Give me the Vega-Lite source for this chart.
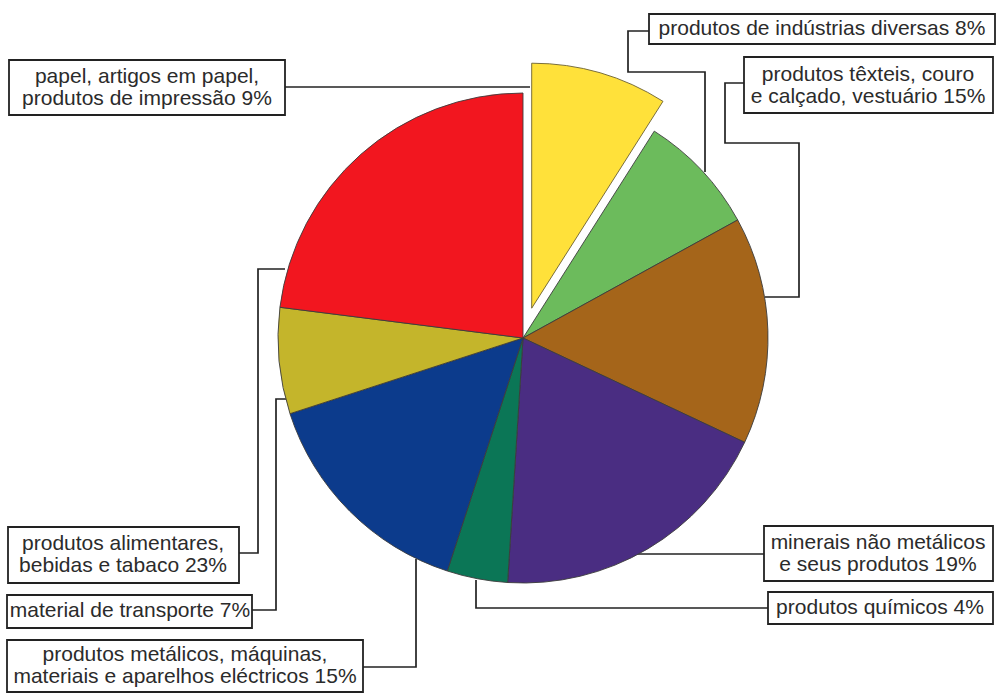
{
  "$schema": "https://vega.github.io/schema/vega-lite/v6.json",
  "width": 954,
  "height": 676,
  "autosize": "none",
  "padding": {"left": 46, "top": 0, "right": 0, "bottom": 19},
  "background": "white",
  "config": {"view": {"stroke": null}},
  "datasets": {
    "slices": [
      {"sector": "papel, artigos em papel, produtos de impressão", "pct": 9, "ord": 1},
      {"sector": "produtos de indústrias diversas", "pct": 8, "ord": 2},
      {"sector": "produtos têxteis, couro e calçado, vestuário", "pct": 15, "ord": 3},
      {"sector": "minerais não metálicos e seus produtos", "pct": 19, "ord": 4},
      {"sector": "produtos químicos", "pct": 4, "ord": 5},
      {"sector": "produtos metálicos, máquinas, materiais e aparelhos eléctricos", "pct": 15, "ord": 6},
      {"sector": "material de transporte", "pct": 7, "ord": 7},
      {"sector": "produtos alimentares, bebidas e tabaco", "pct": 23, "ord": 8}
    ],
    "boxes": [
      {"label": "papel, artigos em papel,\nprodutos de impressão 9%", "x1": -514, "x2": -238, "y1": 278, "y2": 223, "tx": -376, "ty": 261},
      {"label": "produtos de indústrias diversas 8%", "x1": 126, "x2": 472, "y1": 324, "y2": 294, "tx": 299, "ty": 309},
      {"label": "produtos  têxteis, couro\ne calçado, vestuário 15%", "x1": 221, "x2": 470, "y1": 281, "y2": 225, "tx": 345, "ty": 263},
      {"label": "minerais não metálicos\ne seus produtos 19%", "x1": 241, "x2": 470, "y1": -188, "y2": -243, "tx": 355, "ty": -205},
      {"label": "produtos químicos 4%", "x1": 245, "x2": 470, "y1": -254, "y2": -286, "tx": 357, "ty": -270},
      {"label": "produtos metálicos, máquinas,\nmateriais e aparelhos eléctricos 15%", "x1": -516, "x2": -160, "y1": -302, "y2": -354, "tx": -338, "ty": -317},
      {"label": "material de transporte 7%", "x1": -516, "x2": -271, "y1": -257, "y2": -290, "tx": -393, "ty": -273},
      {"label": "produtos alimentares,\nbebidas e tabaco 23%", "x1": -515, "x2": -284, "y1": -189, "y2": -245, "tx": -400, "ty": -206}
    ],
    "leaders": [
      {"lid": "papel", "seq": 1, "lx": -238, "ly": 251},
      {"lid": "papel", "seq": 2, "lx": 7, "ly": 251},
      {"lid": "diversas", "seq": 1, "lx": 126, "ly": 307},
      {"lid": "diversas", "seq": 2, "lx": 105, "ly": 307},
      {"lid": "diversas", "seq": 3, "lx": 105, "ly": 266},
      {"lid": "diversas", "seq": 4, "lx": 182, "ly": 266},
      {"lid": "diversas", "seq": 5, "lx": 182, "ly": 166},
      {"lid": "texteis", "seq": 1, "lx": 221, "ly": 255},
      {"lid": "texteis", "seq": 2, "lx": 202, "ly": 255},
      {"lid": "texteis", "seq": 3, "lx": 202, "ly": 195},
      {"lid": "texteis", "seq": 4, "lx": 276, "ly": 195},
      {"lid": "texteis", "seq": 5, "lx": 276, "ly": 41},
      {"lid": "texteis", "seq": 6, "lx": 242, "ly": 41},
      {"lid": "minerais", "seq": 1, "lx": 241, "ly": -216},
      {"lid": "minerais", "seq": 2, "lx": 114, "ly": -216},
      {"lid": "quimicos", "seq": 1, "lx": 245, "ly": -270},
      {"lid": "quimicos", "seq": 2, "lx": -47, "ly": -270},
      {"lid": "quimicos", "seq": 3, "lx": -47, "ly": -242},
      {"lid": "metalicos", "seq": 1, "lx": -160, "ly": -329},
      {"lid": "metalicos", "seq": 2, "lx": -107, "ly": -329},
      {"lid": "metalicos", "seq": 3, "lx": -107, "ly": -221},
      {"lid": "transporte", "seq": 1, "lx": -271, "ly": -272},
      {"lid": "transporte", "seq": 2, "lx": -247, "ly": -272},
      {"lid": "transporte", "seq": 3, "lx": -247, "ly": -61},
      {"lid": "transporte", "seq": 4, "lx": -234, "ly": -61},
      {"lid": "alimentares", "seq": 1, "lx": -284, "ly": -215},
      {"lid": "alimentares", "seq": 2, "lx": -265, "ly": -215},
      {"lid": "alimentares", "seq": 3, "lx": -265, "ly": 69},
      {"lid": "alimentares", "seq": 4, "lx": -238, "ly": 69}
    ]
  },
  "layer": [
    {
      "data": {"name": "leaders"},
      "mark": {"type": "line", "stroke": "#222222", "strokeWidth": 1.7, "interpolate": "linear"},
      "encoding": {
        "x": {"field": "lx", "type": "quantitative", "scale": {"domain": [-477, 477], "nice": false, "zero": false}, "axis": null},
        "y": {"field": "ly", "type": "quantitative", "scale": {"domain": [-338, 338], "nice": false, "zero": false}, "axis": null},
        "detail": {"field": "lid"},
        "order": {"field": "seq", "type": "quantitative"}
      }
    },
    {
      "data": {"name": "slices"},
      "transform": [
        {"stack": "pct", "groupby": [], "sort": [{"field": "ord", "order": "ascending"}], "as": ["t0", "t1"]}
      ],
      "encoding": {
        "theta": {"field": "t0", "type": "quantitative", "scale": {"domain": [0, 100], "range": [0, 6.283185307179586]}},
        "theta2": {"field": "t1"},
        "color": {
          "field": "sector",
          "type": "nominal",
          "legend": null,
          "scale": {
            "domain": [
              "papel, artigos em papel, produtos de impressão",
              "produtos de indústrias diversas",
              "produtos têxteis, couro e calçado, vestuário",
              "minerais não metálicos e seus produtos",
              "produtos químicos",
              "produtos metálicos, máquinas, materiais e aparelhos eléctricos",
              "material de transporte",
              "produtos alimentares, bebidas e tabaco"
            ],
            "range": ["#FFE13A", "#6CBB5C", "#A5651A", "#4A2D82", "#0B7656", "#0C3B8C", "#C4B52B", "#F2161F"]
          }
        }
      },
      "layer": [
        {
          "transform": [{"filter": "datum.ord != 1"}],
          "mark": {"type": "arc", "radius": 245, "stroke": "#3c3c3c", "strokeWidth": 0.9}
        },
        {
          "transform": [{"filter": "datum.ord == 1"}],
          "mark": {"type": "arc", "radius": 245, "stroke": "#6b6030", "strokeWidth": 0.9, "xOffset": 8.7, "yOffset": -29.8}
        }
      ]
    },
    {
      "data": {"name": "boxes"},
      "mark": {"type": "rect", "fill": "white", "stroke": "#222222", "strokeWidth": 1.8},
      "encoding": {
        "x": {"field": "x1", "type": "quantitative", "scale": {"domain": [-477, 477], "nice": false, "zero": false}, "axis": null},
        "x2": {"field": "x2"},
        "y": {"field": "y1", "type": "quantitative", "scale": {"domain": [-338, 338], "nice": false, "zero": false}, "axis": null},
        "y2": {"field": "y2"}
      }
    },
    {
      "data": {"name": "boxes"},
      "mark": {"type": "text", "font": "Liberation Sans", "fontSize": 21, "fill": "#2b2b2b", "align": "center", "baseline": "middle", "lineBreak": "\n", "lineHeight": 22},
      "encoding": {
        "x": {"field": "tx", "type": "quantitative", "scale": {"domain": [-477, 477], "nice": false, "zero": false}, "axis": null},
        "y": {"field": "ty", "type": "quantitative", "scale": {"domain": [-338, 338], "nice": false, "zero": false}, "axis": null},
        "text": {"field": "label"}
      }
    }
  ]
}
